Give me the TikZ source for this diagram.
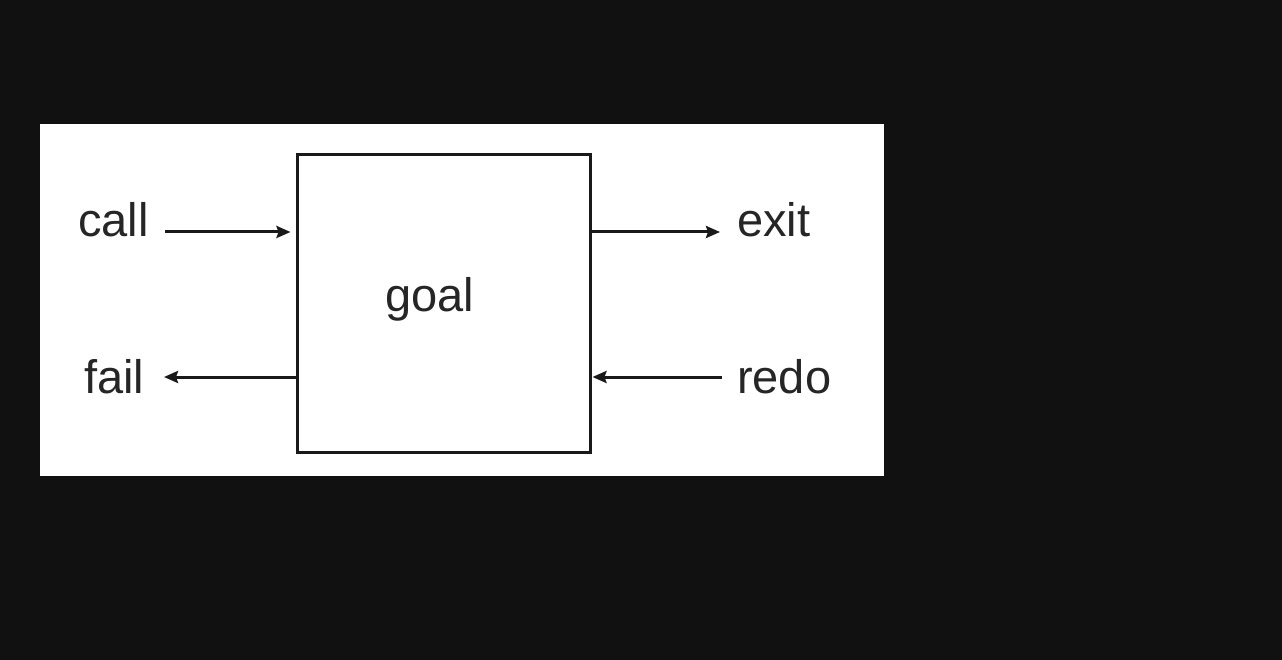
\documentclass[tikz,border=0pt]{standalone}
\usepackage{fontspec}
\setmainfont{Liberation Sans}
\usetikzlibrary{arrows.meta}
\definecolor{bgdark}{HTML}{111111}
\begin{document}
\begin{tikzpicture}[x=1pt,y=-1pt,
  lbl/.style={anchor=base west,inner sep=0pt,font=\fontsize{47}{56}\selectfont,text=black!85},
  arr/.style={line width=3pt,-{Stealth[length=14pt,width=12pt,inset=2pt]},draw=black!90},
  boxst/.style={draw=black!90,line width=3pt,minimum width=293pt,minimum height=297pt,inner sep=0pt}]
\useasboundingbox (0,0) rectangle (1282,660);
\fill[bgdark] (0,0) rectangle (1282,660);
\fill[white] (40,124) rectangle (884,476);
\node[boxst] (box) at (443.5,303.5) {};
\node[lbl] (goal) at (385,311) {goal};
\node[lbl] (call) at (78,237) {call};
\node[lbl] (exit) at (737,237) {exit};
\node[lbl] (fail) at (84,393) {fail};
\node[lbl] (redo) at (737,393) {redo};
\coordinate (callstart) at (165,232);
\coordinate (exitend) at (720,232);
\coordinate (failend) at (164,377);
\coordinate (redostart) at (722,377);
\draw[arr,shorten >=5pt] (callstart) -- (callstart -| box.west);
\draw[arr] (exitend -| box.east) -- (exitend);
\draw[arr] (failend -| box.west) -- (failend);
\draw[arr,shorten >=1pt] (redostart) -- (redostart -| box.east);
\end{tikzpicture}
\end{document}
